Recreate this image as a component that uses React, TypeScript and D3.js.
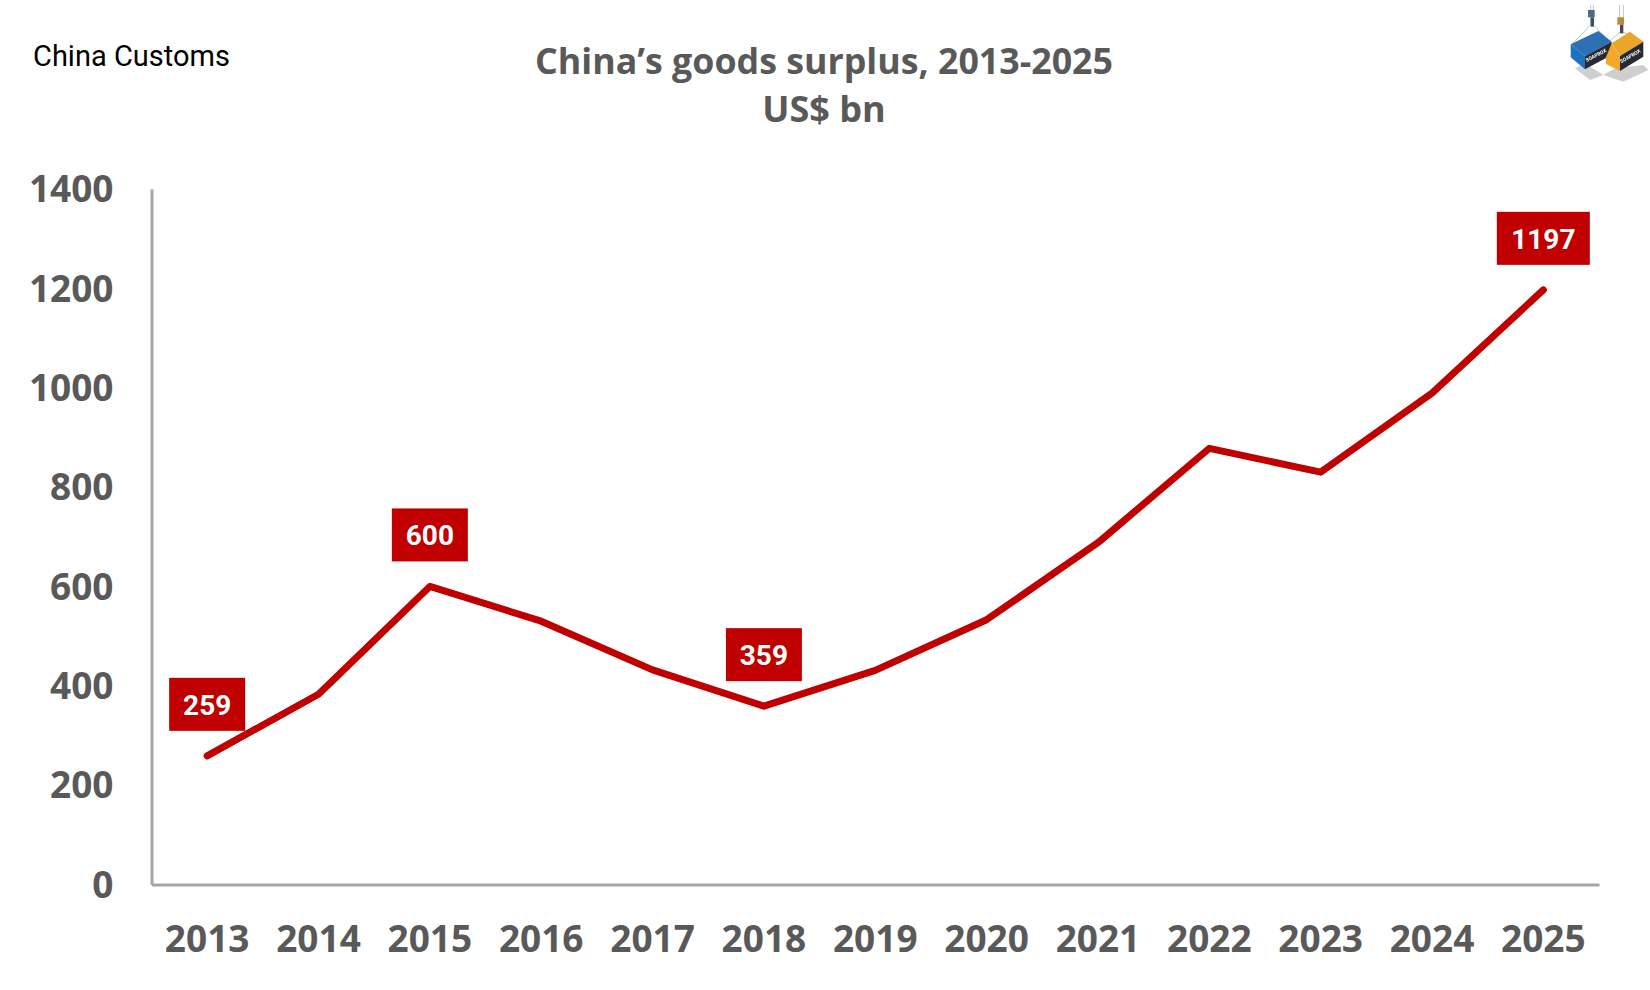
import React, { useEffect, useRef } from 'react';
import * as d3 from 'd3';

const years = ['2013', '2014', '2015', '2016', '2017', '2018', '2019', '2020', '2021', '2022', '2023', '2024', '2025'];
const surplus = [259, 383, 600, 530, 432, 359, 431, 533, 688, 878, 830, 989, 1197];
const yTicks = [0, 200, 400, 600, 800, 1000, 1200, 1400];
const labelledYears = ['2013', '2015', '2018', '2025'];

const GREY = '#595959';
const RED = '#C00000';
const TICK_FONT = '"Open Sans", sans-serif';
const LABEL_FONT = 'Roboto, sans-serif';

const App: React.FC = () => {
  const svgRef = useRef<SVGSVGElement | null>(null);

  useEffect(() => {
    if (!svgRef.current) return;
    const svg = d3.select(svgRef.current);
    svg.selectAll('*').remove();

    const x = d3.scaleBand<string>().domain(years).range([151.5, 1599]);
    const y = d3.scaleLinear().domain([0, 1400]).range([884.5, 189]);
    const cx = (year: string) => (x(year) ?? 0) + x.bandwidth() / 2;

    // source + title
    svg.append('text')
      .attr('x', 33).attr('y', 66)
      .attr('fill', '#000')
      .style('font', `400 29px ${LABEL_FONT}`)
      .text('China Customs');

    svg.append('text')
      .attr('x', 824).attr('y', 74)
      .attr('text-anchor', 'middle')
      .attr('fill', GREY)
      .attr('textLength', 578)
      .attr('lengthAdjust', 'spacingAndGlyphs')
      .style('font', `700 36px ${TICK_FONT}`)
      .text('China’s goods surplus, 2013-2025');

    svg.append('text')
      .attr('x', 824).attr('y', 122)
      .attr('text-anchor', 'middle')
      .attr('fill', GREY)
      .style('font', `700 36px ${TICK_FONT}`)
      .text('US$ bn');

    // axes
    const xAxis = d3.axisBottom(x).tickSize(0).tickPadding(41);
    const gx = svg.append('g').attr('transform', 'translate(0,884.5)').call(xAxis);
    const yAxis = d3.axisLeft(y).tickValues(yTicks).tickSize(0).tickPadding(38).tickFormat(d3.format('d'));
    const gy = svg.append('g').attr('transform', 'translate(151.5,1)').call(yAxis);
    gy.select('path.domain').attr('transform', 'translate(0,-1)');

    [gx, gy].forEach(g => {
      g.selectAll('path.domain').attr('stroke', '#A6A6A6').attr('stroke-width', 3);
      g.selectAll('text')
        .attr('fill', GREY)
        .style('font', `700 37px ${TICK_FONT}`);
    });

    // line
    const line = d3.line<number>()
      .x((_, i) => cx(years[i]))
      .y(d => y(d));

    svg.append('path')
      .datum(surplus)
      .attr('d', line)
      .attr('fill', 'none')
      .attr('stroke', RED)
      .attr('stroke-width', 7)
      .attr('stroke-linecap', 'round')
      .attr('stroke-linejoin', 'round');

    // data labels
    labelledYears.forEach(year => {
      const value = surplus[years.indexOf(year)];
      const w = value >= 1000 ? 93 : 76;
      const top = y(value) - 78;
      svg.append('rect')
        .attr('x', cx(year) - w / 2).attr('y', top)
        .attr('width', w).attr('height', 53)
        .attr('fill', RED);
      svg.append('text')
        .attr('x', cx(year)).attr('y', top + 37)
        .attr('text-anchor', 'middle')
        .attr('fill', '#fff')
        .style('font', `700 28px ${LABEL_FONT}`)
        .text(String(value));
    });

    // container logo, top right
    const defs = svg.append('defs');
    defs.append('filter').attr('id', 'soft')
      .append('feGaussianBlur').attr('stdDeviation', 1.6);
    const logo = svg.append('g')
      .attr('transform', 'translate(1560,0) scale(0.3333)')
      .attr('filter', 'url(#soft)');
    logo.append('polygon').attr('points', '45,205 75,190 130,225 165,205 250,195 265,210 190,245 130,225 90,240').attr('fill', '#CFCFCF');
    const cables = [[92, 15, 92, 75], [100, 15, 100, 75], [92, 75, 38, 130], [100, 75, 150, 125], [178, 15, 180, 70], [190, 15, 190, 70], [182, 95, 140, 130], [186, 95, 250, 125]];
    cables.forEach(c => {
      logo.append('line')
        .attr('x1', c[0]).attr('y1', c[1]).attr('x2', c[2]).attr('y2', c[3])
        .attr('stroke', '#BFC4CA').attr('stroke-width', 3);
    });
    logo.append('rect').attr('x', 84).attr('y', 30).attr('width', 20).attr('height', 22).attr('fill', '#4B6B86');
    logo.append('rect').attr('x', 92).attr('y', 52).attr('width', 10).attr('height', 28).attr('fill', '#3A5068');
    logo.append('rect').attr('x', 172).attr('y', 52).attr('width', 20).attr('height', 22).attr('fill', '#B98A3A');
    logo.append('rect').attr('x', 180).attr('y', 74).attr('width', 10).attr('height', 26).attr('fill', '#4A4A4A');
    logo.append('polygon').attr('points', '32,133 115,93 155,125 75,168').attr('fill', '#2F6FB5');
    logo.append('polygon').attr('points', '32,133 75,168 75,208 32,172').attr('fill', '#1F6FC0');
    logo.append('polygon').attr('points', '75,168 155,125 155,165 75,208').attr('fill', '#262A30');
    logo.append('polygon').attr('points', '155,130 210,95 250,125 180,168').attr('fill', '#EBA62C');
    logo.append('polygon').attr('points', '138,172 155,130 180,168 180,213 138,192').attr('fill', '#F0A92B');
    logo.append('polygon').attr('points', '180,168 250,125 250,170 180,213').attr('fill', '#262A30');
    logo.append('text')
      .attr('transform', 'translate(80,186) rotate(-27)')
      .attr('fill', '#fff')
      .style('font', `700 15px ${LABEL_FONT}`)
      .text('SOAPBOX');
    logo.append('text')
      .attr('transform', 'translate(184,190) rotate(-30)')
      .attr('fill', '#fff')
      .style('font', `700 15px ${LABEL_FONT}`)
      .text('SOAPBOX');
  }, []);

  return (
    <svg
      ref={svgRef}
      width={1650}
      height={990}
      style={{ position: 'absolute', left: 0, top: 0, background: '#fff' }}
    />
  );
};

export default App;
